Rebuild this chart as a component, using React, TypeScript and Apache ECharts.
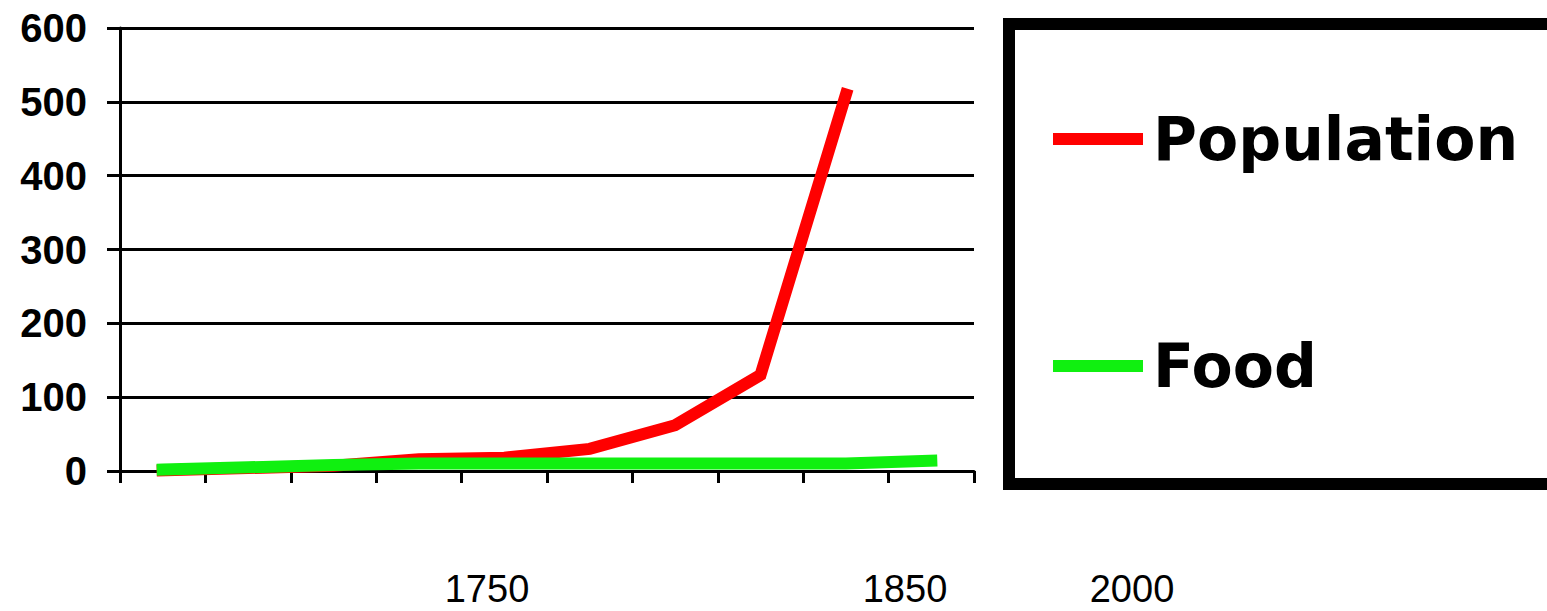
import React, { useEffect, useRef } from "react";
import * as echarts from "echarts";

const categories = ["c1", "c2", "c3", "c4", "c5", "c6", "c7", "c8", "c9", "c10"];
const population = [1, 4, 7, 16, 18, 30, 62, 130, 510, null];
const food = [2, 5, 8, 10, 10, 10, 10, 10, 10, 14];
const yTicks = [0, 100, 200, 300, 400, 500, 600];
const bottomLabels = ["1750", "1850", "2000"];
const bottomLabelX = [487, 905, 1132];

export default function App() {
  const ref = useRef<HTMLDivElement>(null);
  useEffect(() => {
    if (!ref.current) return;
    const chart = echarts.init(ref.current, undefined, { renderer: "svg" });
    chart.setOption({
      animation: false,
      backgroundColor: "#ffffff",
      grid: { left: 120, right: 573, top: 28, bottom: 140, containLabel: false },
      xAxis: {
        type: "category",
        data: categories,
        boundaryGap: true,
        axisLine: { show: true, lineStyle: { color: "#000", width: 3 } },
        axisTick: { show: true, interval: 0, length: 12, lineStyle: { color: "#000", width: 3 } },
        axisLabel: { show: false },
        splitLine: { show: false },
      },
      yAxis: {
        type: "value",
        min: yTicks[0],
        max: yTicks[yTicks.length - 1],
        interval: 100,
        axisLine: { show: true, lineStyle: { color: "#000", width: 3 } },
        axisTick: { show: true, length: 13, lineStyle: { color: "#000", width: 3 } },
        axisLabel: {
          margin: 33,
          color: "#000",
          fontFamily: "Liberation Sans",
          fontWeight: "bold",
          fontSize: 40,
        },
        splitLine: { show: true, lineStyle: { color: "#000", width: 3 } },
      },
      legend: {
        data: ["Population", "Food"],
        orient: "vertical",
        left: 1053,
        top: 109,
        padding: 0,
        icon: "rect",
        itemWidth: 90,
        itemHeight: 12,
        itemGap: 167,
        selectedMode: false,
        textStyle: {
          color: "#000",
          fontFamily: "DejaVu Sans",
          fontWeight: "bold",
          fontSize: 60,
          lineHeight: 60,
          padding: [0, 0, 0, 5],
        },
      },
      graphic: [
        {
          type: "rect",
          shape: { x: 1009, y: 24, width: 700, height: 460 },
          style: { fill: "none", stroke: "#000", lineWidth: 12 },
          silent: true,
        },
        ...bottomLabels.map((t, i) => ({
          type: "text",
          x: bottomLabelX[i],
          y: 589,
          style: {
            text: t,
            fill: "#000",
            fontFamily: "Liberation Sans",
            fontSize: 38,
            lineHeight: 36,
            textAlign: "center",
            textVerticalAlign: "middle",
          },
          silent: true,
        })),
      ],
      series: [
        {
          name: "Population",
          type: "line",
          data: population,
          showSymbol: false,
          symbol: "none",
          itemStyle: { color: "#ff0000" },
          lineStyle: { color: "#ff0000", width: 12, cap: "square", join: "miter" },
        },
        {
          name: "Food",
          type: "line",
          data: food,
          showSymbol: false,
          symbol: "none",
          itemStyle: { color: "#10f010" },
          lineStyle: { color: "#10f010", width: 12, cap: "square", join: "miter" },
        },
      ],
    });
    return () => chart.dispose();
  }, []);
  return (
    <div
      ref={ref}
      style={{ position: "absolute", left: 0, top: 0, width: 1547, height: 611, background: "#fff" }}
    />
  );
}
